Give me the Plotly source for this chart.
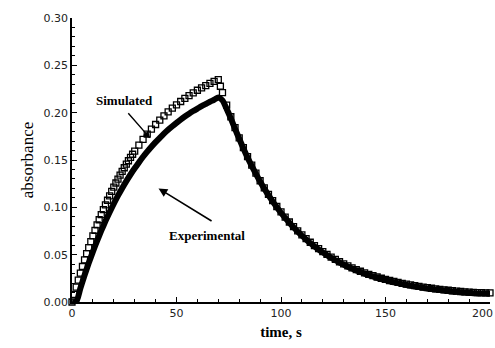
import plotly.graph_objects as go

# Simulated curve: 1 s sampling on the early rise (0-30 s), 2 s afterwards
sim_time = list(range(0, 30)) + list(range(30, 71, 2)) + [71] + list(range(72, 201, 2))
simulated = [
    # 0 - 29 s
    0.0000, 0.0080, 0.0157, 0.0232, 0.0305, 0.0375, 0.0444, 0.0510, 0.0575, 0.0637,
    0.0698, 0.0757, 0.0814, 0.0869, 0.0923, 0.0975, 0.1026, 0.1075, 0.1122, 0.1169,
    0.1214, 0.1257, 0.1299, 0.1340, 0.1380, 0.1418, 0.1456, 0.1492, 0.1527, 0.1561,
    # 30 - 70 s
    0.1594, 0.1658, 0.1717, 0.1773, 0.1826, 0.1875, 0.1922, 0.1966, 0.2008, 0.2047,
    0.2083, 0.2118, 0.2150, 0.2181, 0.2209, 0.2237, 0.2262, 0.2286, 0.2309, 0.2330,
    0.2350,
    # 71 s
    0.2279,
    # 72 - 200 s
    0.2211, 0.2080, 0.1957, 0.1841, 0.1733, 0.1631, 0.1535, 0.1445, 0.1361, 0.1281,
    0.1206, 0.1137, 0.1071, 0.1009, 0.0951, 0.0896, 0.0845, 0.0797, 0.0752, 0.0709,
    0.0669, 0.0631, 0.0596, 0.0563, 0.0532, 0.0503, 0.0475, 0.0450, 0.0425, 0.0403,
    0.0381, 0.0361, 0.0342, 0.0325, 0.0308, 0.0292, 0.0278, 0.0264, 0.0251, 0.0239,
    0.0227, 0.0217, 0.0207, 0.0197, 0.0188, 0.0180, 0.0172, 0.0165, 0.0158, 0.0151,
    0.0145, 0.0139, 0.0134, 0.0129, 0.0124, 0.0119, 0.0115, 0.0111, 0.0108, 0.0104,
    0.0101, 0.0099, 0.0098, 0.0097, 0.0096,
]

# Experimental curve: 2 s sampling
exp_time = list(range(0, 201, 2))
experimental = [
    0.0000, 0.0000, 0.0145, 0.0282, 0.0411, 0.0532, 0.0646, 0.0753, 0.0854, 0.0949,
    0.1038, 0.1123, 0.1202, 0.1277, 0.1347, 0.1412, 0.1474, 0.1534, 0.1588, 0.1640,
    0.1689, 0.1734, 0.1778, 0.1819, 0.1857, 0.1893, 0.1927, 0.1959, 0.1989, 0.2017,
    0.2043, 0.2069, 0.2092, 0.2115, 0.2136, 0.2160,
    0.2130, 0.2040, 0.1940, 0.1830, 0.1725, 0.1623, 0.1527, 0.1437, 0.1353, 0.1273,
    0.1198, 0.1129, 0.1063, 0.1001, 0.0943, 0.0888, 0.0837, 0.0789, 0.0744, 0.0701,
    0.0661, 0.0623, 0.0588, 0.0555, 0.0524, 0.0495, 0.0467, 0.0442, 0.0417, 0.0395,
    0.0373, 0.0353, 0.0334, 0.0317, 0.0300, 0.0284, 0.0270, 0.0256, 0.0243, 0.0231,
    0.0219, 0.0209, 0.0199, 0.0189, 0.0180, 0.0172, 0.0164, 0.0157, 0.0150, 0.0143,
    0.0137, 0.0131, 0.0126, 0.0121, 0.0116, 0.0111, 0.0107, 0.0103, 0.0100, 0.0096,
    0.0093, 0.0091, 0.0090, 0.0089, 0.0088,
]

x_ticks = [0, 50, 100, 150, 200]
x_tick_labels = ["0", "50", "100", "150", "200"]
y_ticks = [0.00, 0.05, 0.10, 0.15, 0.20, 0.25, 0.30]

serif = "Liberation Serif"
sans = "DejaVu Sans"
tick_font = dict(family=sans, size=11, color="#222")

fig = go.Figure()
fig.add_trace(go.Scatter(
    x=exp_time, y=experimental, mode="lines",
    line=dict(color="black", width=6, shape="spline", smoothing=0.6),
    name="Experimental", cliponaxis=False, showlegend=False,
))
fig.add_trace(go.Scatter(
    x=sim_time, y=simulated, mode="markers",
    marker=dict(symbol="square-open", size=6, color="black",
                line=dict(color="black", width=1.3)),
    name="Simulated", cliponaxis=False, showlegend=False,
))

fig.add_annotation(x=37.4, y=0.173, ax=26.3, ay=0.201, axref="x", ayref="y",
                   xref="x", yref="y", text="", showarrow=True,
                   arrowhead=2, arrowsize=1, arrowwidth=1.4, arrowcolor="black")
fig.add_annotation(x=25, y=0.2125, xref="x", yref="y", text="<b>Simulated</b>",
                   showarrow=False, font=dict(family=serif, size=13, color="black"))
fig.add_annotation(x=41.4, y=0.120, ax=67.5, ay=0.0846, axref="x", ayref="y",
                   xref="x", yref="y", text="", showarrow=True,
                   arrowhead=2, arrowsize=1.1, arrowwidth=1.6, arrowcolor="black")
fig.add_annotation(x=64.5, y=0.0705, xref="x", yref="y", text="<b>Experimental</b>",
                   showarrow=False, font=dict(family=serif, size=13, color="black"))

# last x tick label, kept inside the page at the right edge
fig.add_annotation(x=x_ticks[-1], y=0, xref="x", yref="y", text=x_tick_labels[-1],
                   showarrow=False, xanchor="right", yanchor="top",
                   xshift=5, yshift=-3, font=tick_font)

fig.update_xaxes(
    range=[0, 200], tickvals=x_ticks[:-1], ticktext=x_tick_labels[:-1],
    automargin=False,
    showline=True, linecolor="black", linewidth=1.5,
    ticks="inside", ticklen=5, tickwidth=1.3, tickcolor="black",
    minor=dict(dtick=10, ticks="inside", ticklen=3, tickwidth=1, tickcolor="black"),
    showgrid=False, zeroline=False,
    tickfont=tick_font,
    title=dict(text="<b>time, s</b>", font=dict(family=serif, size=15, color="black"),
               standoff=8),
)
fig.update_yaxes(
    range=[0, 0.30], tickvals=y_ticks, ticktext=[f"{v:.2f}" for v in y_ticks],
    ticklabeloverflow="allow", automargin=False,
    showline=True, linecolor="black", linewidth=1.5,
    ticks="inside", ticklen=5, tickwidth=1.3, tickcolor="black",
    minor=dict(dtick=0.01, ticks="inside", ticklen=3, tickwidth=1, tickcolor="black"),
    showgrid=False, zeroline=False,
    tickfont=tick_font,
    title=dict(text="absorbance", font=dict(family=serif, size=17, color="black"),
               standoff=6),
)
fig.update_layout(
    width=495, height=348,
    margin=dict(l=72, r=5, t=18, b=46),
    plot_bgcolor="white", paper_bgcolor="white",
)
fig.write_html("out.html")
